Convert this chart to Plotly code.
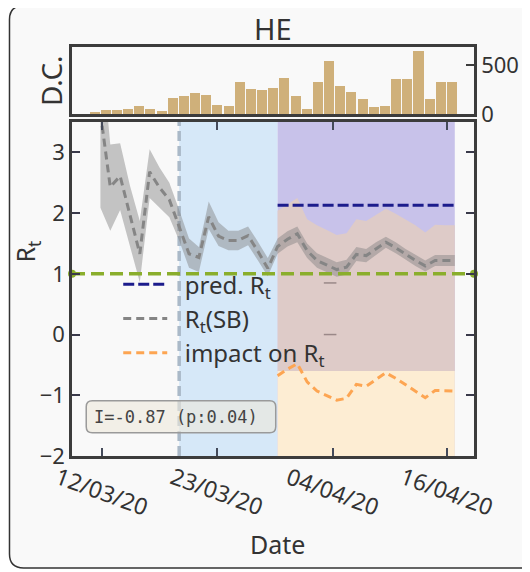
import plotly.graph_objects as go
import pandas as pd

# ---------------- data ----------------
dates = pd.date_range("2020-03-12", "2020-04-17", freq="D")  # 37 daily points

rt_sb = [3.65, 2.43, 2.61, 1.97, 1.33, 2.68, 2.42, 2.22, 1.79, 1.33,
         1.27, 1.94, 1.62, 1.55, 1.55, 1.63, 1.37, 1.09, 1.45, 1.57,
         1.66, 1.38, 1.22, 1.14, 1.07, 1.11, 1.32, 1.30, 1.41, 1.52,
         1.43, 1.32, 1.22, 1.13, 1.22, 1.22, 1.22]
rt_lo = [2.09, 1.71, 2.05, 1.45, 0.86, 2.25, 2.09, 1.93, 1.55, 1.10,
         1.03, 1.74, 1.46, 1.39, 1.39, 1.47, 1.22, 0.96, 1.33, 1.45,
         1.52, 1.26, 1.10, 1.02, 0.95, 0.99, 1.21, 1.19, 1.31, 1.43,
         1.34, 1.23, 1.13, 1.04, 1.13, 1.13, 1.13]
rt_hi = [4.90, 3.13, 3.15, 2.45, 1.87, 3.05, 2.75, 2.50, 2.05, 1.58,
         1.44, 2.19, 1.85, 1.71, 1.71, 1.78, 1.53, 1.26, 1.58, 1.70,
         1.78, 1.50, 1.34, 1.26, 1.19, 1.23, 1.44, 1.41, 1.52, 1.61,
         1.52, 1.41, 1.31, 1.22, 1.31, 1.31, 1.31]

post_dates = dates[18:]  # 30/03 .. 17/04
pred_rt = [2.13] * len(post_dates)
impact = [-0.68, -0.57, -0.48, -0.78, -0.93, -1.00, -1.08, -1.05, -0.82, -0.85,
          -0.74, -0.63, -0.72, -0.83, -0.93, -1.04, -0.92, -0.93, -0.93]
region_top = [2.04, 2.15, 2.25, 1.90, 1.80, 1.72, 1.64, 1.67, 1.90, 1.87,
              1.97, 2.07, 1.99, 1.90, 1.80, 1.68, 1.81, 1.80, 1.80]
region_floor = [-0.6] * len(post_dates)

threshold = 1.0
intervention_date = "2020-03-20"
post_start = "2020-03-30"
end_date = "2020-04-17"

mark_dates = ["2020-04-04 08:00", "2020-04-04 08:00"]
mark_vals = [0.85, 0.0]

daily_cases = [14, 41, 41, 52, 83, 52, 31, 166, 186, 217, 197, 93, 83, 331, 259,
               248, 269, 373, 186, 52, 331, 549, 290, 228, 155, 72, 83, 362, 362,
               652, 155, 331, 331]
bar_index = list(range(len(daily_cases)))

tick_vals = ["2020-03-12 03:20", "2020-03-23 21:05", "2020-04-04 13:55", "2020-04-16 04:45"]
tick_text = ["12/03/20", "23/03/20", "04/04/20", "16/04/20"]
x_start = "2020-03-09 02:40"
x_end = "2020-04-18 22:50"

# ---------------- styles ----------------
FONT = "Noto Sans"
TXT = "#333333"
FRAME = "#3c3c3c"
NB = "\u00a0\u00a0"

fig = go.Figure()

# top: daily cases bars
fig.add_trace(go.Bar(x=bar_index, y=daily_cases, marker=dict(color="#cfb07a", line=dict(width=0)),
                     width=0.9, xaxis="x", yaxis="y", showlegend=False))

# post-period region (pink band)
fig.add_trace(go.Scatter(x=post_dates, y=region_floor, mode="lines", line=dict(width=0),
                         xaxis="x2", yaxis="y2", showlegend=False, hoverinfo="skip"))
fig.add_trace(go.Scatter(x=post_dates, y=region_top, mode="lines", line=dict(width=0),
                         fill="tonexty", fillcolor="#decbc8",
                         xaxis="x2", yaxis="y2", showlegend=False, hoverinfo="skip"))

# Rt(SB) band
fig.add_trace(go.Scatter(x=dates, y=rt_lo, mode="lines", line=dict(width=0),
                         xaxis="x2", yaxis="y2", showlegend=False, hoverinfo="skip"))
fig.add_trace(go.Scatter(x=dates, y=rt_hi, mode="lines", line=dict(width=0),
                         fill="tonexty", fillcolor="rgba(128,128,128,0.45)",
                         xaxis="x2", yaxis="y2", showlegend=False, hoverinfo="skip"))

# lines
fig.add_trace(go.Scatter(x=post_dates, y=pred_rt, mode="lines", name=NB + "pred. R<sub>t</sub>",
                         line=dict(color="#1c1c8c", width=3, dash="11px,4px"),
                         xaxis="x2", yaxis="y2"))
fig.add_trace(go.Scatter(x=dates, y=rt_sb, mode="lines", name=NB + "R<sub>t</sub>(SB)",
                         line=dict(color="#858585", width=3, dash="8px,5px"),
                         xaxis="x2", yaxis="y2"))
fig.add_trace(go.Scatter(x=post_dates, y=impact, mode="lines", name=NB + "impact on R<sub>t</sub>",
                         line=dict(color="#fda552", width=3, dash="8px,5px"),
                         xaxis="x2", yaxis="y2"))

# threshold line
fig.add_trace(go.Scatter(x=[x_start, x_end], y=[threshold, threshold], mode="lines+markers",
                         line=dict(color="#8aae2c", width=3.5, dash="13px,6px"),
                         marker=dict(color="#8aae2c", size=8), cliponaxis=False,
                         xaxis="x2", yaxis="y2", showlegend=False, hoverinfo="skip"))

fig.add_trace(go.Scatter(x=mark_dates, y=mark_vals, mode="markers",
                         marker=dict(symbol="line-ew", size=9, line=dict(color="#9a8888", width=1.5)),
                         xaxis="x2", yaxis="y2", showlegend=False, hoverinfo="skip"))

# ---------------- shapes ----------------
def rounded(x0, x1, y0, y1, rx, ry):
    return (f"M{x0+rx},{y1} L{x1-rx},{y1} Q{x1},{y1} {x1},{y1-ry} L{x1},{y0+ry} "
            f"Q{x1},{y0} {x1-rx},{y0} L{x0+rx},{y0} Q{x0},{y0} {x0},{y0+ry} "
            f"L{x0},{y1-ry} Q{x0},{y1} {x0+rx},{y1} Z")

def card(x0, x_far, y0, y1, rx, ry):
    # open on the right: the card continues past the visible page
    return (f"M{x_far},{y1} L{x0+rx},{y1} Q{x0},{y1} {x0},{y1-ry} "
            f"L{x0},{y0+ry} Q{x0},{y0} {x0+rx},{y0} L{x_far},{y0}")

shapes = [
    # figure card
    dict(type="path", xref="paper", yref="paper", layer="below",
         path=card(-0.1555, 1.40, -0.2738, 1.101, 0.035, 0.034),
         fillcolor="#f9f9f9", line=dict(color="#333333", width=1.5)),
    # intervention period
    dict(type="rect", xref="x2", yref="y2 domain", x0=intervention_date, x1=post_start, y0=0, y1=1,
         fillcolor="#d6e8f8", line=dict(width=0), layer="below"),
    # post period
    dict(type="rect", xref="x2", yref="y2 domain", x0=post_start, x1=end_date, y0=0, y1=1,
         fillcolor="#c8c2ea", line=dict(width=0), layer="below"),
    dict(type="rect", xref="x2", yref="y2", x0=post_start, x1=end_date, y0=-2, y1=-0.6,
         fillcolor="#fdedd3", line=dict(width=0), layer="below"),
    # intervention marker
    dict(type="line", xref="x2", yref="y2 domain", x0=intervention_date, x1=intervention_date, y0=0, y1=1,
         line=dict(color="#aab9c8", width=3.5, dash="10px,5px"), layer="below"),
    # stats box
    dict(type="path", xref="x2 domain", yref="y2 domain", layer="above",
         path=rounded(0.0354, 0.5068, 0.0698, 0.1656, 0.015, 0.018),
         fillcolor="rgba(236,231,218,0.6)", line=dict(color="#9a9a9a", width=1.5)),
]

def ann(text, x, y, xref="paper", yref="paper", size=22, angle=0, family=FONT, color=TXT,
        xanchor="center"):
    return dict(text=text, x=x, y=y, xref=xref, yref=yref, xanchor=xanchor, yanchor="middle",
                textangle=angle, showarrow=False, font=dict(family=family, size=size, color=color))

annotations = [
    ann("I=-0.87 (p:0.04)", 0.05, 0.118, xref="x2 domain", yref="y2 domain",
        size=17, family="DejaVu Sans Mono", color="#444444", xanchor="left"),
    ann("HE", 0.5, 1.046, size=29),
    ann("D.C.", -0.052, 0.917, size=28, angle=-90),
    ann("R<sub>t</sub>", -0.112, 0.50, size=25, angle=-90),
    ann("Date", 0.51, -0.215, size=25),
]
for tv, tt in zip(tick_vals, tick_text):
    annotations.append(ann(tt, tv, -0.0856, xref="x2", size=23, angle=20))

axis_common = dict(showline=True, linecolor=FRAME, linewidth=2.5, showgrid=False, zeroline=False)

fig.update_layout(
    width=522, height=564,
    margin=dict(l=64, r=56, t=39, b=116),
    paper_bgcolor="white", plot_bgcolor="#fcfcfc",
    font=dict(family=FONT, color=TXT, size=22),
    bargap=0,
    xaxis=dict(domain=[0, 1], anchor="y", range=[-2.02, 33.97], mirror=True,
               showticklabels=False, ticks="", **axis_common),
    yaxis=dict(domain=[0.8362, 1.0], anchor="x", range=[0, 690], side="right", mirror=True,
               tickvals=[0, 500], ticks="inside", ticklen=8, tickwidth=1.5, tickcolor=FRAME,
               tickfont=dict(size=22), **axis_common),
    xaxis2=dict(domain=[0, 1], anchor="y2", type="date", range=[x_start, x_end],
                tickvals=tick_vals, showticklabels=False, ticks="inside", ticklen=8,
                tickwidth=1.5, tickcolor="#444a5a", mirror="ticks", **axis_common),
    yaxis2=dict(domain=[0, 0.8166], anchor="x2", range=[-2, 3.5], tickvals=[-2, -1, 0, 1, 2, 3],
                ticks="inside", ticklen=8, tickwidth=1.5, tickcolor="#3a3a4a", mirror="ticks",
                tickfont=dict(size=22), **axis_common),
    legend=dict(x=0.115, y=0.474, xanchor="left", yanchor="top", bgcolor="rgba(0,0,0,0)",
                traceorder="normal",
                font=dict(family=FONT, size=24, color=TXT), itemwidth=44),
    shapes=shapes, annotations=annotations,
)

fig.write_html("out.html", config={"displayModeBar": False})
